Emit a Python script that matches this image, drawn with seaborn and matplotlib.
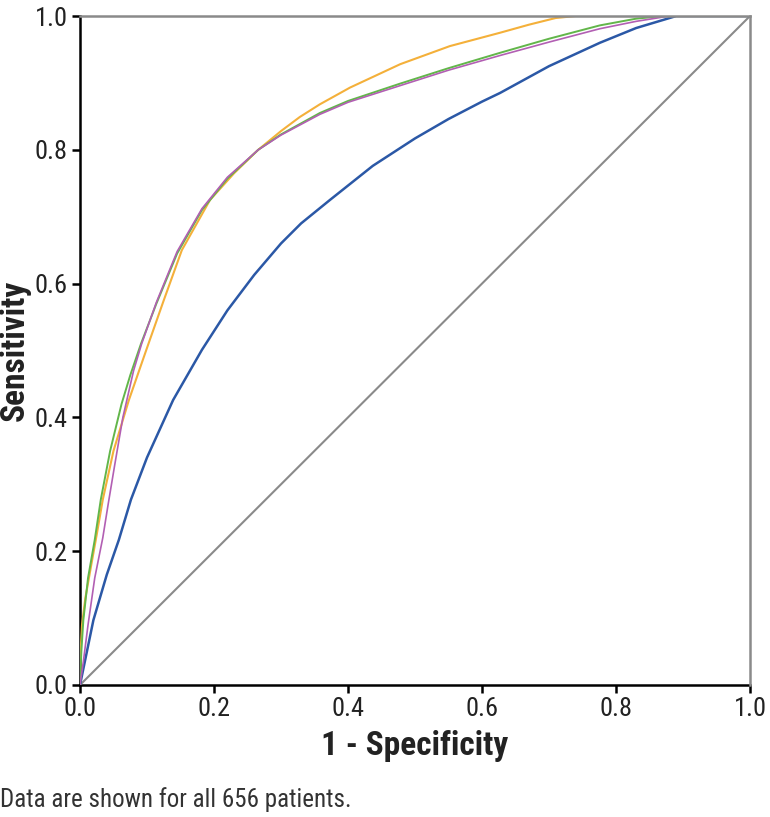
import matplotlib
matplotlib.use("Agg")
import matplotlib.pyplot as plt
from matplotlib import font_manager
import seaborn as sns
import pandas as pd

# ROC curves (1 - specificity, sensitivity)
blue_x = [0.0, 0.02, 0.04, 0.058, 0.076, 0.10, 0.139, 0.182, 0.22, 0.26, 0.30, 0.33, 0.373, 0.437, 0.50, 0.55, 0.60, 0.627, 0.70, 0.776, 0.83, 0.89, 1.0]
blue_y = [0.0, 0.097, 0.165, 0.217, 0.277, 0.34, 0.426, 0.501, 0.56, 0.613, 0.66, 0.69, 0.725, 0.776, 0.817, 0.846, 0.872, 0.885, 0.925, 0.96, 0.982, 1.0, 1.0]

green_x = [0.0, 0.002, 0.005, 0.012, 0.022, 0.031, 0.045, 0.062, 0.075, 0.091, 0.114, 0.145, 0.182, 0.22, 0.266, 0.30, 0.358, 0.40, 0.478, 0.55, 0.627, 0.70, 0.776, 0.83, 0.87, 1.0]
green_y = [0.0, 0.05, 0.097, 0.16, 0.217, 0.277, 0.35, 0.42, 0.463, 0.51, 0.57, 0.645, 0.71, 0.757, 0.80, 0.823, 0.855, 0.873, 0.899, 0.922, 0.945, 0.966, 0.986, 0.996, 1.0, 1.0]

purple_x = [0.0, 0.005, 0.012, 0.022, 0.034, 0.042, 0.052, 0.064, 0.08, 0.092, 0.114, 0.145, 0.182, 0.22, 0.266, 0.30, 0.358, 0.40, 0.478, 0.55, 0.627, 0.70, 0.776, 0.83, 0.88, 1.0]
purple_y = [0.0, 0.035, 0.09, 0.16, 0.22, 0.27, 0.33, 0.40, 0.47, 0.51, 0.572, 0.648, 0.712, 0.759, 0.80, 0.822, 0.853, 0.871, 0.896, 0.919, 0.941, 0.961, 0.981, 0.992, 1.0, 1.0]

orange_x = [0.0, 0.001, 0.003, 0.008, 0.016, 0.025, 0.034, 0.05, 0.073, 0.099, 0.125, 0.152, 0.194, 0.23, 0.266, 0.30, 0.328, 0.358, 0.403, 0.478, 0.552, 0.627, 0.67, 0.71, 0.74, 1.0]
orange_y = [0.0, 0.05, 0.09, 0.13, 0.175, 0.225, 0.277, 0.35, 0.426, 0.501, 0.575, 0.65, 0.725, 0.765, 0.80, 0.828, 0.849, 0.868, 0.893, 0.928, 0.955, 0.975, 0.987, 0.997, 1.0, 1.0]

ref_x = [0.0, 1.0]
ref_y = [0.0, 1.0]

x_ticks = [0.0, 0.2, 0.4, 0.6, 0.8, 1.0]
y_ticks = [0.0, 0.2, 0.4, 0.6, 0.8, 1.0]
x_label = "1 - Specificity"
y_label = "Sensitivity"
footnote = "Data are shown for all 656 patients."

sns.set_theme(style="white")
names = {f.name for f in font_manager.fontManager.ttflist}
fam = "DejaVu Sans"
for cand in ["Roboto Condensed", "Archivo Narrow", "Barlow Semi Condensed", "Asap Condensed", "Liberation Sans"]:
    if cand in names:
        fam = cand
        break
plt.rcParams["font.family"] = [fam, "DejaVu Sans"]
plt.rcParams["lines.solid_joinstyle"] = "round"
plt.rcParams["lines.solid_capstyle"] = "round"

frames = []
for name, xs, ys in [("ref", ref_x, ref_y), ("blue", blue_x, blue_y), ("purple", purple_x, purple_y),
                     ("green", green_x, green_y), ("orange", orange_x, orange_y)]:
    frames.append(pd.DataFrame({"x": xs, "y": ys, "curve": name}))
df = pd.concat(frames, ignore_index=True)

palette = {"ref": "#8a8a8a", "blue": "#2b58a6", "purple": "#b25fb3", "green": "#62b64a", "orange": "#f4b03a"}
widths = {"ref": 1.5, "blue": 1.8, "purple": 1.2, "green": 1.4, "orange": 1.5}

fig = plt.figure(figsize=(7.7, 8.17), dpi=100)
ax = fig.add_axes([80/770, 1-685/817, 670/770, 669/817])

for name in ["ref", "orange", "blue", "green", "purple"]:
    sub = df[df.curve == name]
    sns.lineplot(data=sub, x="x", y="y", sort=False, estimator=None, color=palette[name],
                 lw=widths[name], ax=ax, legend=False, zorder=3)

ax.set_xlim(0, 1)
ax.set_ylim(0, 1)
ax.set_xticks(x_ticks)
ax.set_yticks(y_ticks)
ax.set_xticklabels([f"{t:.1f}" for t in x_ticks])
ax.set_yticklabels([f"{t:.1f}" for t in y_ticks])
ax.tick_params(axis="both", which="both", direction="out", length=6, width=1.8, color="black",
               labelsize=19, labelcolor="#222222", pad=3, left=True, bottom=True)
for side in ["left", "bottom"]:
    ax.spines[side].set_color("black")
    ax.spines[side].set_linewidth(1.8)
for side in ["top", "right"]:
    ax.spines[side].set_color("#8a8a8a")
    ax.spines[side].set_linewidth(1.8)
    ax.spines[side].set_zorder(4)

ax.set_xlabel(x_label, fontsize=24, fontweight="bold", color="#222222", va="center")
ax.set_ylabel(y_label, fontsize=24, fontweight="bold", color="#222222", va="center")
ax.xaxis.set_label_coords((415 - 80) / 670, (685 - 746) / 669)
ax.yaxis.set_label_coords((15 - 80) / 670, 0.5)

fig.text(0.0, 1 - 800 / 817, footnote, fontsize=18, color="#333333", ha="left", va="center")

fig.savefig("out.png", dpi=100)
